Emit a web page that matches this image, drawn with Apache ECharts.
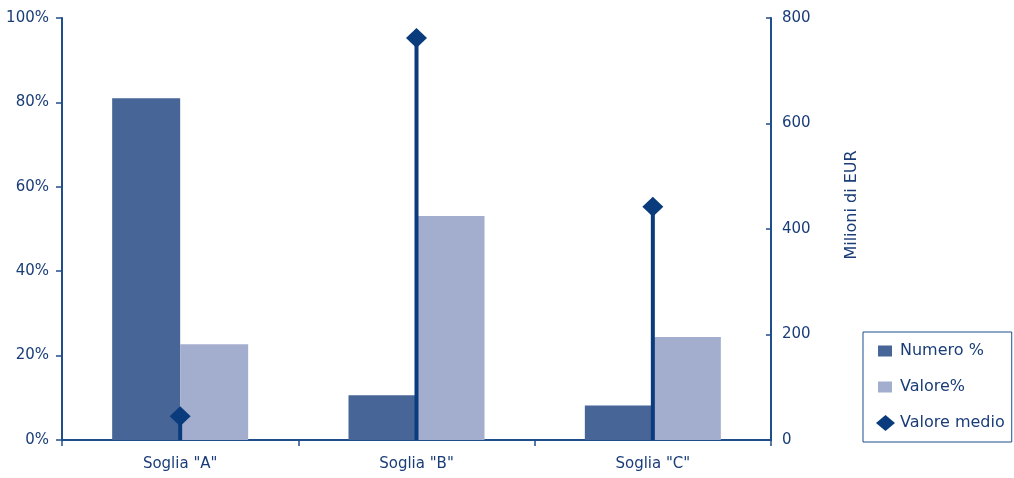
<!DOCTYPE html>
<html><head><meta charset="utf-8">
<script src="https://cdn.jsdelivr.net/npm/echarts@6/dist/echarts.min.js"></script>
<style>html,body{margin:0;padding:0;background:#fff}#c{width:1014px;height:478px}</style>
</head><body><div id="c"></div>
<script>
var categories = ['Soglia "A"', 'Soglia "B"', 'Soglia "C"'];
var numeroPct = [81, 10.6, 8.2];
var valorePct = [22.7, 53.1, 24.4];
var valoreMedio = [45, 762, 442];
var leftTicks = [0, 20, 40, 60, 80, 100];
var rightTicks = [0, 200, 400, 600, 800];

var axisColor = '#1f4e8c';
var textColor = '#1a3d78';
var font = 'DejaVu Sans';
var rectIcon = 'path://M0,0L0.001,0Z M19,16L19.001,16Z M2,2.5L16,2.5L16,13.5L2,13.5Z';
var chart = echarts.init(document.getElementById('c'), null, {renderer: 'canvas'});
chart.setOption({
  animation: false,
  textStyle: {fontFamily: font},
  grid: {left: 62, right: 243, top: 18, bottom: 38, containLabel: false},
  legend: {
    orient: 'vertical', left: 863, top: 332,
    padding: [11, 7, 11, 13], itemGap: 20, itemWidth: 19, itemHeight: 16,
    borderColor: axisColor, borderWidth: 1,
    textStyle: {color: textColor, fontSize: 16, fontFamily: font},
    data: [
      {name: 'Numero %', icon: rectIcon, itemStyle: {color: '#476597'}},
      {name: 'Valore%', icon: rectIcon, itemStyle: {color: '#a3adcd'}},
      {name: 'Valore medio', icon: 'diamond', itemStyle: {color: '#0a3c7d', opacity: 1}}
    ]
  },
  graphic: [{
    type: 'text', x: 852, y: 205, rotation: Math.PI / 2,
    style: {text: 'Milioni di EUR', fill: textColor, font: '16px "DejaVu Sans"',
      align: 'center', verticalAlign: 'middle'}
  }],
  xAxis: [{
    type: 'category', data: categories, position: 'bottom',
    axisLine: {show: true, lineStyle: {color: axisColor, width: 2}},
    axisTick: {show: true, alignWithLabel: false, length: 6, lineStyle: {color: axisColor, width: 1.5}},
    axisLabel: {color: textColor, fontSize: 15, margin: 17, fontFamily: font}
  }, {
    type: 'category', data: categories, position: 'top',
    axisLine: {show: true, lineStyle: {color: axisColor, width: 2}},
    axisTick: {show: false}, axisLabel: {show: false}
  }],
  yAxis: [{
    type: 'value', min: 0, max: 100, interval: 20, position: 'left',
    axisLine: {show: true, lineStyle: {color: axisColor, width: 2}},
    axisTick: {show: true, length: 6, lineStyle: {color: axisColor, width: 1.5}},
    splitLine: {show: false},
    axisLabel: {color: textColor, fontSize: 15, margin: 13, fontFamily: font,
      formatter: function(v){ return leftTicks.indexOf(v) >= 0 ? v + '%' : ''; }}
  }, {
    type: 'value', min: 0, max: 800, interval: 200, position: 'right',
    axisLine: {show: true, lineStyle: {color: axisColor, width: 2}},
    axisTick: {show: true, inside: true, length: 5, lineStyle: {color: axisColor, width: 1.5}},
    splitLine: {show: false},
    axisLabel: {color: textColor, fontSize: 15, margin: 11, fontFamily: font,
      formatter: function(v){ return rightTicks.indexOf(v) >= 0 ? String(v) : ''; }}
  }],
  series: [{
    name: 'Numero %', type: 'bar', xAxisIndex: 0, yAxisIndex: 0,
    data: numeroPct, barWidth: 68, barGap: '0%',
    itemStyle: {color: '#476597'}
  }, {
    name: 'Valore%', type: 'bar', xAxisIndex: 0, yAxisIndex: 0,
    data: valorePct, barWidth: 68, barGap: '0%',
    itemStyle: {color: '#a3adcd'}
  }, {
    name: 'stem', type: 'bar', xAxisIndex: 1, yAxisIndex: 1,
    data: valoreMedio, barWidth: 4, itemStyle: {color: '#0a3c7d'},
    legendHoverLink: false, silent: true, z: 3
  }, {
    name: 'Valore medio', type: 'scatter', xAxisIndex: 1, yAxisIndex: 1,
    data: valoreMedio, symbol: 'diamond', symbolSize: [21, 20],
    itemStyle: {color: '#0a3c7d', opacity: 1}, z: 4
  }]
});
</script></body></html>
